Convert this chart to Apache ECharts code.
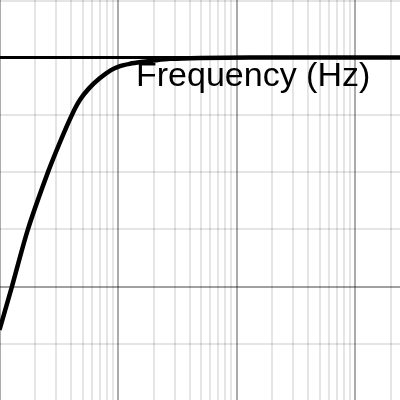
<!DOCTYPE html>
<html>
<head>
<meta charset="utf-8">
<script src="https://cdn.jsdelivr.net/npm/echarts@6/dist/echarts.min.js"></script>
<style>html,body{margin:0;padding:0;background:#fff;}#chart{width:400px;height:400px;}</style>
</head>
<body>
<div id="chart"></div>
<script>
// Frequency (Hz) and magnitude (dB)
const freqs = [10, 12.75, 17.4, 25.7, 33.0, 40.9, 47.8, 56.9, 70.5, 87.3, 104, 126, 156, 194, 275, 492, 1300, 3440, 24000];
const gainDb = [-23.8, -20.0, -15.0, -10.0, -7.2, -5.0, -3.7, -2.7, -1.8, -1.1, -0.75, -0.55, -0.4, -0.28, -0.12, -0.04, 0, 0, 0];
const minorMultipliers = [2, 3, 4, 5, 6, 7, 8, 9];
const decades = [1, 10, 100, 1000, 10000];
const axisLabel = 'Frequency (Hz)';

const minorFreqs = [];
decades.forEach(d => minorMultipliers.forEach(m => minorFreqs.push(d * m)));
const curve = freqs.map((f, i) => [f, gainDb[i]]);

const chart = echarts.init(document.getElementById('chart'), null, {renderer: 'canvas'});
chart.setOption({
  animation: false,
  backgroundColor: '#ffffff',
  grid: {left: -119, right: -73.5, top: -171.3, bottom: -115.1, containLabel: false, outerBoundsMode: 'none'},
  xAxis: {
    type: 'log', logBase: 10, min: 1, max: 100000,
    axisLine: {show: true, onZero: true, lineStyle: {color: '#000', width: 3}},
    axisTick: {show: false}, axisLabel: {show: false},
    splitLine: {show: true, lineStyle: {color: 'rgba(0,0,0,0.33)', width: 2}}
  },
  yAxis: [{
    type: 'value', min: -40, max: 20, interval: 5,
    axisLine: {show: false}, axisTick: {show: false}, axisLabel: {show: false},
    splitLine: {show: true, lineStyle: {color: 'rgba(0,0,0,0.1)', width: 2}}
  }, {
    type: 'value', min: -40, max: 20, interval: 20,
    axisLine: {show: false}, axisTick: {show: false}, axisLabel: {show: false},
    splitLine: {show: true, lineStyle: {color: 'rgba(0,0,0,0.3)', width: 2}}
  }],
  graphic: [{
    type: 'text', z: 100,
    style: {text: axisLabel, x: 136, y: 94, font: '34px "Liberation Sans", Arial, sans-serif', fill: '#000', verticalAlign: 'bottom', textAlign: 'left'}
  }],
  series: [{
    type: 'line', z: 1, data: curve, showSymbol: false, silent: true,
    lineStyle: {opacity: 0},
    markLine: {
      silent: true, symbol: ['none', 'none'], z: 1, label: {show: false},
      lineStyle: {color: 'rgba(0,0,0,0.1)', width: 2, type: 'solid'},
      data: minorFreqs.map(f => ({xAxis: f}))
    }
  }, {
    type: 'line', z: 3, data: curve, smooth: 0.3, showSymbol: false, silent: true,
    lineStyle: {color: '#000', width: 4.5}
  }]
});
</script>
</body>
</html>
